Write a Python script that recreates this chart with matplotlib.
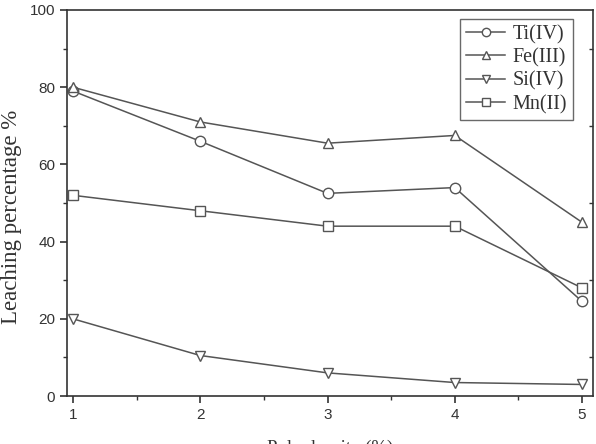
import matplotlib
matplotlib.use("Agg")
import matplotlib.pyplot as plt
import matplotlib.lines as mlines
from matplotlib.ticker import MultipleLocator

pulp_density = [1, 2, 3, 4, 5]
ti = [79, 66, 52.5, 54, 24.5]
fe = [80, 71, 65.5, 67.5, 45]
si = [20, 10.5, 6, 3.5, 3]
mn = [52, 48, 44, 44, 28]
series = [("Ti(IV)", ti, "o"), ("Fe(III)", fe, "^"), ("Si(IV)", si, "v"), ("Mn(II)", mn, "s")]

fig = plt.figure(figsize=(5.96, 4.44), dpi=100)
ax = fig.add_axes([0.1124, 0.108, 0.8826, 0.8695])
col = "#555555"
for name, vals, m in series:
    ax.plot(pulp_density, vals, color=col, lw=1.1, marker=m, markersize=7.5,
            markerfacecolor="white", markeredgecolor=col, markeredgewidth=1.0, label=name)

ax.set_xlim(0.953, 5.086)
ax.set_ylim(0, 100)
ax.xaxis.set_major_locator(MultipleLocator(1))
ax.xaxis.set_minor_locator(MultipleLocator(0.5))
ax.yaxis.set_major_locator(MultipleLocator(20))
ax.yaxis.set_minor_locator(MultipleLocator(10))
ax.tick_params(axis="both", which="major", direction="out", length=5, width=1.2,
               labelsize=11, color="#333333", labelcolor="#333333")
ax.tick_params(axis="both", which="minor", direction="out", length=3, width=1.0, color="#333333")
ax.tick_params(axis="y", which="minor", right=True)
for lab in ax.get_xticklabels() + ax.get_yticklabels():
    lab.set_family("Liberation Sans")
for s in ax.spines.values():
    s.set_linewidth(1.2)
    s.set_color("#333333")
for t in ax.yaxis.get_minor_ticks():
    t.tick2line.set_marker(mlines.TICKLEFT)

ax.set_ylabel("Leaching percentage %", family="Liberation Serif", fontsize=16.5, color="#333333")
ax.yaxis.set_label_coords(-0.086, 0.464)
ax.set_xlabel("Pulp density (%)", family="Liberation Serif", fontsize=13.5, color="#333333", labelpad=13)

leg = ax.legend(loc="upper right", bbox_to_anchor=(0.962, 0.977), borderaxespad=0,
                prop={"family": "Liberation Serif", "size": 14.5},
                frameon=True, fancybox=False, edgecolor="#444444", handlelength=1.95,
                handletextpad=0.35, borderpad=0.3, labelspacing=0.2, markerscale=0.8)
leg.get_frame().set_linewidth(1.0)
for t in leg.get_texts():
    t.set_color("#333333")

fig.savefig("out.png", dpi=100)
